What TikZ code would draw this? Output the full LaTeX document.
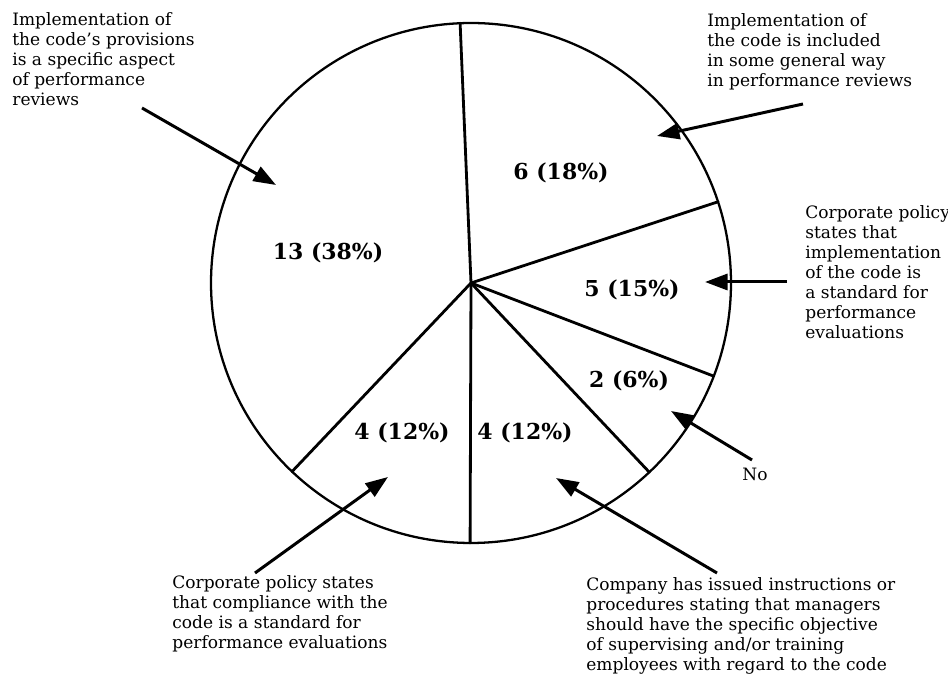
\documentclass[tikz,border=0pt]{standalone}
\usepackage{fontspec}
\setmainfont{DejaVu Serif}
\usepackage{tkz-euclide}
\usetikzlibrary{arrows.meta,calc}

\tikzset{
  note/.style={align=left,anchor=north west,inner sep=0pt,
    font=\fontsize{9.7}{11.4}\selectfont},
  share/.style={font=\fontsize{12.5}{14}\selectfont\bfseries},
  pointer/.style={line width=1.7pt,
    -{Triangle[length=0.45cm,width=0.32cm]}},
}

\begin{document}
\begin{tikzpicture}
        \useasboundingbox (0,0) rectangle (18.96,13.6);
        \tkzDefPoint(9.42,7.94){O}
        \tkzDefShiftPoint[O](92.4:5.2){P1}
        \tkzDefShiftPoint[O](18.2:5.2){P2}
        \tkzDefShiftPoint[O](-21:5.2){P3}
        \tkzDefShiftPoint[O](-46.7:5.2){P4}
        \tkzDefShiftPoint[O](-90.2:5.2){P5}
        \tkzDefShiftPoint[O](-133.5:5.2){P6}
        \tkzDrawCircle[color=black,line width=1.3pt](O,P1)
        \tkzDrawSegments[color=black,line width=1.6pt](O,P1 O,P2 O,P3 O,P4 O,P5 O,P6)
        % shares
        \node[share] (s13) at (6.56,8.54) {13 (38\%)};
        \node[share] (s6)  at (11.22,10.14) {6 (18\%)};
        \node[share] (s5)  at (12.64,7.80) {5 (15\%)};
        \node[share] (s2)  at (12.58,5.98) {2 (6\%)};
        \node[share] (s4a) at (8.04,4.94) {4 (12\%)};
        \node[share] (s4b) at (10.50,4.94) {4 (12\%)};
        % notes
        \node[note] (n1) at (0.24,13.36) {Implementation of\\the code's provisions\\is a specific aspect\\of performance\\reviews};
        \node[note] (n2) at (14.14,13.34) {Implementation of\\the code is included\\in some general way\\in performance reviews};
        \node[note] (n3) at (16.10,9.50) {Corporate policy\\states that\\implementation\\of the code is\\a standard for\\performance\\evaluations};
        \node[note] (n4) at (3.44,2.10) {Corporate policy states\\that compliance with the\\code is a standard for\\performance evaluations};
        \node[note] (n5) at (11.72,2.06) {Company has issued instructions or\\procedures stating that managers\\should have the specific objective\\of supervising and/or training\\employees with regard to the code};
        \node[font=\fontsize{9.7}{11.4}\selectfont] (no) at (15.10,4.12) {No};
        % pointers
        \tkzDefPoints{2.84/11.44/a1, 5.52/9.90/t1,
          16.06/11.52/a2, 13.14/10.88/t2,
          15.74/7.96/a3, 14.10/7.96/t3,
          15.04/4.40/a4, 13.42/5.38/t4,
          14.34/2.14/a5, 11.12/4.04/t5,
          5.10/2.14/a6, 7.76/4.06/t6}
        \draw[pointer] (a1) -- (t1);
        \draw[pointer] (a2) -- (t2);
        \draw[pointer] (a3) -- (t3);
        \draw[pointer] (a4) -- (t4);
        \draw[pointer] (a5) -- (t5);
        \draw[pointer] (a6) -- (t6);
    \end{tikzpicture}
\end{document}
